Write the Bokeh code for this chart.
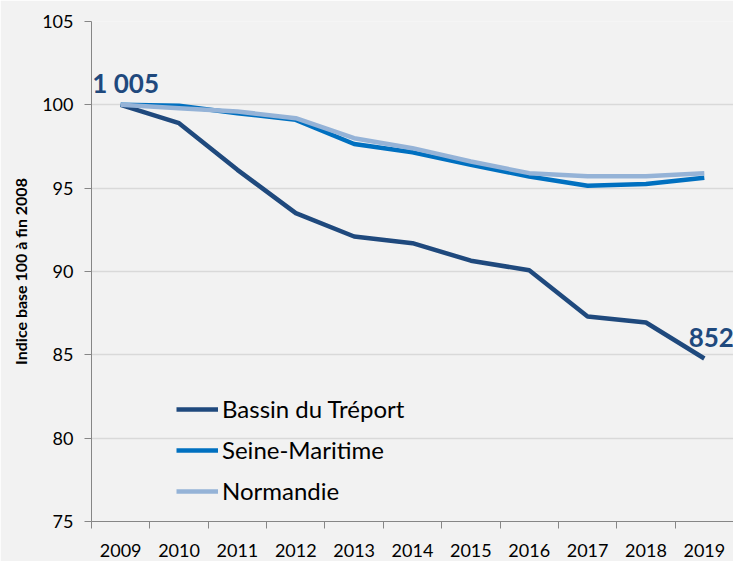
from bokeh.plotting import figure
from bokeh.models import FixedTicker, Range1d, Label, Legend, LegendItem
from bokeh.embed import file_html
from bokeh.resources import INLINE

years = [2009, 2010, 2011, 2012, 2013, 2014, 2015, 2016, 2017, 2018, 2019]
treport = [100.0, 98.9, 96.1, 93.5, 92.1, 91.7, 90.65, 90.07, 87.3, 86.94, 84.78]
seine = [100.0, 99.95, 99.5, 99.1, 97.65, 97.15, 96.4, 95.7, 95.15, 95.25, 95.62]
normandie = [100.0, 99.8, 99.6, 99.2, 98.0, 97.4, 96.6, 95.9, 95.72, 95.72, 95.9]
y_ticks = [75, 80, 85, 90, 95, 100, 105]
first_label = "1 005"
last_label = "852"

FONT = "Lato"
BG = "#f2f2f2"

p = figure(width=733, height=561, output_backend="svg", toolbar_location=None,
           x_range=Range1d(years[0] - 0.5, years[-1] + 0.5),
           y_range=Range1d(75, 105),
           min_border_left=91, min_border_right=0, min_border_top=21, min_border_bottom=40)
p.background_fill_color = BG
p.border_fill_color = BG
p.outline_line_color = None

cols = ["#1F497D", "#0070C0", "#95B3D7"]
names = ["Bassin du Tréport", "Seine-Maritime", "Normandie"]
rs = []
for ser, c in zip([treport, seine, normandie], cols):
    rs.append(p.line(years, ser, line_color=c, line_width=4.5, line_join="round"))

# axes
p.xaxis.ticker = FixedTicker(ticks=years, minor_ticks=[y - 0.5 for y in years] + [years[-1] + 0.5])
p.xaxis.major_label_overrides = {y: str(y) for y in years}
p.xaxis.major_tick_out = 0
p.xaxis.major_tick_in = 0
p.xaxis.minor_tick_out = 7
p.xaxis.minor_tick_in = 0
p.xaxis.minor_tick_line_color = "#868686"
p.xaxis.major_label_standoff = 15
p.xgrid.grid_line_color = None

p.yaxis.ticker = FixedTicker(ticks=y_ticks)
p.yaxis.major_tick_out = 7
p.yaxis.major_tick_in = 0
p.yaxis.minor_tick_line_color = None
p.yaxis.major_label_standoff = 11
p.yaxis.axis_label = "Indice base 100 à fin 2008"
p.yaxis.axis_label_text_font = FONT
p.yaxis.axis_label_text_font_style = "bold"
p.yaxis.axis_label_text_font_size = "16px"
p.yaxis.axis_label_text_color = "black"
p.yaxis.axis_label_standoff = 9
p.ygrid.grid_line_color = "#d9d9d9"
p.ygrid.grid_line_width = 1.5

for ax in (p.xaxis, p.yaxis):
    ax.axis_line_color = "#868686"
    ax.major_tick_line_color = "#868686"
    ax.major_label_text_font = FONT
    ax.major_label_text_font_size = "18px"
    ax.major_label_text_color = "black"

p.add_layout(Label(x=years[0], y=treport[0], text=first_label, x_offset=5, y_offset=22,
                   text_align="center", text_baseline="alphabetic", text_font=FONT,
                   text_font_style="bold", text_font_size="26px", text_color="#1F497D"))
p.add_layout(Label(x=years[-1], y=treport[-1], text=last_label, x_offset=7, y_offset=21,
                   text_align="center", text_baseline="alphabetic", text_font=FONT,
                   text_font_style="bold", text_font_size="26px", text_color="#1F497D"))

legend = Legend(items=[LegendItem(label=n, renderers=[r]) for n, r in zip(names, rs)],
                location=(85, 16), padding=0, margin=0, spacing=12,
                glyph_width=42, glyph_height=20, label_height=20, label_standoff=4,
                label_text_font=FONT, label_text_font_size="24px", label_text_color="black",
                background_fill_alpha=0, border_line_color=None)
p.add_layout(legend)

open("out.html", "w").write(file_html(p, INLINE))
